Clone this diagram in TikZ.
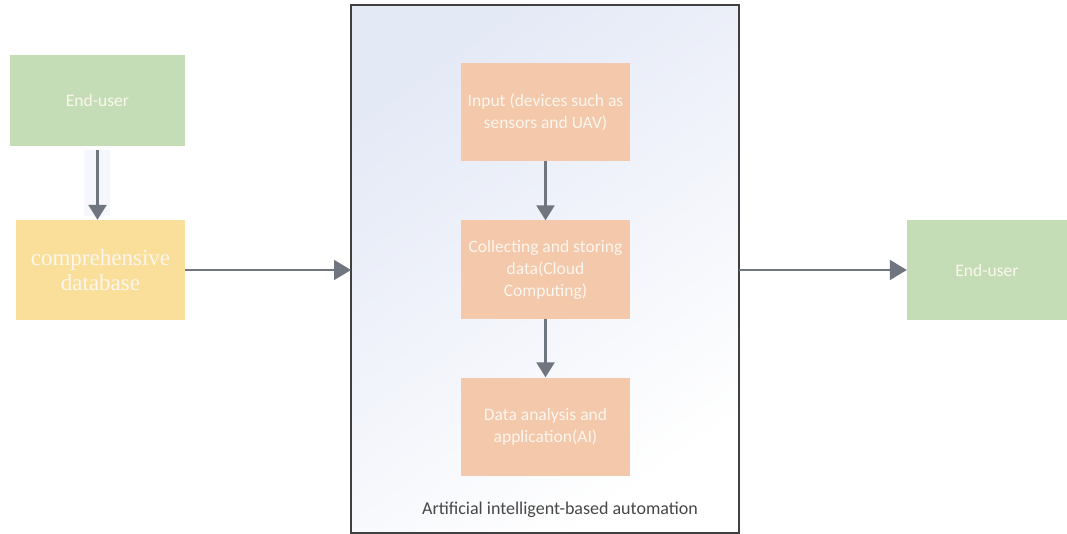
\documentclass[tikz,border=0pt]{standalone}
\usepackage{fontspec}
\setmainfont{Carlito}
\newfontfamily\dbfont{Liberation Serif}
\usetikzlibrary{arrows.meta}
\definecolor{usergreen}{HTML}{C5DDB6}
\definecolor{dbyellow}{HTML}{FADF9B}
\definecolor{stepsalmon}{HTML}{F4C8AA}
\definecolor{linkgray}{HTML}{6F7680}
\definecolor{frameblue}{HTML}{E4E9F6}
\definecolor{labeltext}{HTML}{FBF6EE}
\begin{document}
\begin{tikzpicture}[x=1pt,y=-1pt,
  box/.style={draw=none,inner sep=2pt,align=center,text=labeltext,font=\fontsize{17.5}{22}\selectfont},
  userbox/.style={box,fill=usergreen},
  stagebox/.style={box,fill=stepsalmon,minimum width=169pt,minimum height=98pt},
  link/.style={draw=linkgray,line width=2.6pt,-{Triangle[length=15pt,width=18pt]}},
  hlink/.style={draw=linkgray,line width=1.8pt,-{Triangle[length=17pt,width=20pt]}}
]
\useasboundingbox (0,0) rectangle (1067,534);
\fill[white] (0,0) rectangle (1067,534);

% automation frame with soft gradient
\shade[top color=frameblue,bottom color=white,shading angle=35] (351,5) rectangle (739,533);
\draw[draw=black!75,line width=1.6pt] (351,5) rectangle (739,533);
\node[text=black!72,font=\fontsize{18}{21}\selectfont] (frametitle) at (560,510) {Artificial intelligent-based automation};
\coordinate (frameL) at (351,270);
\coordinate (frameR) at (739,270);

% left column
\node[userbox,minimum width=175pt,minimum height=91pt] (user1) at (97.5,100.5) {End-user};
\node[box,fill=dbyellow,minimum width=169pt,minimum height=100pt,font=\dbfont\fontsize{23}{25}\selectfont] (db) at (100.5,270) {comprehensive\\database};

% stages inside the frame
\node[stagebox] (input) at (545.5,112) {Input (devices such as\\sensors and UAV)};
\node[stagebox] (store) at (545.5,269.5) {Collecting and storing\\data(Cloud\\Computing)};
\node[stagebox] (ai) at (545.5,426.5) {Data analysis and\\application(AI)};

% right end-user
\node[userbox,minimum width=160pt,minimum height=100pt] (user2) at (987,270) {End-user};

% connectors
\fill[frameblue!35] (84,150) rectangle (110,216);
\draw[link] (user1.south) ++(0,4) coordinate (u1s) -- (u1s |- db.north);
\draw[link] (input) -- (store);
\draw[link] (store) -- (ai);
\draw[hlink] (db.east) -- (frameL);
\draw[hlink] (frameR) -- (user2.west);
\end{tikzpicture}
\end{document}
